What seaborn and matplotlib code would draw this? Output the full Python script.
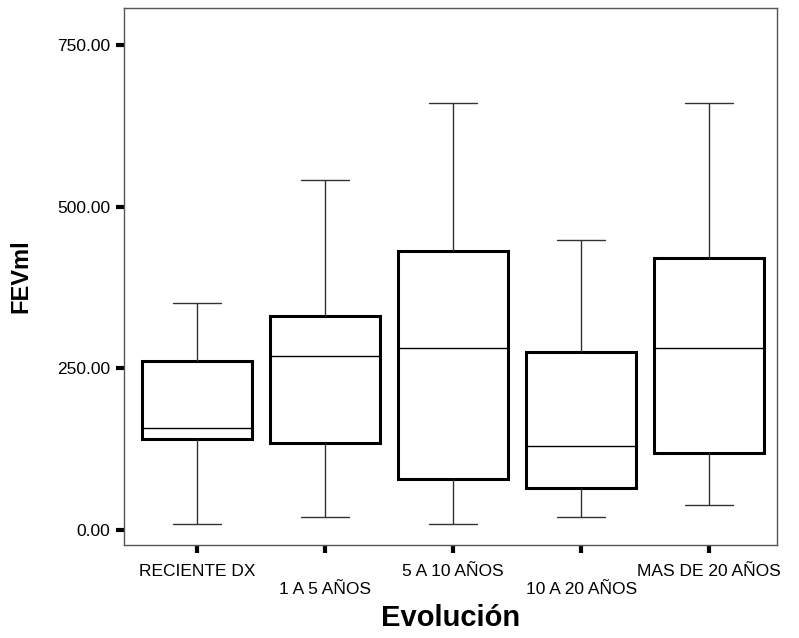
import numpy as np
import pandas as pd
import matplotlib
matplotlib.use("Agg")
import matplotlib.pyplot as plt
import seaborn as sns

# five-number summaries (min, Q1, median, Q3, max)
groups = ["RECIENTE DX", "1 A 5 AÑOS", "5 A 10 AÑOS", "10 A 20 AÑOS", "MAS DE 20 AÑOS"]
lows = [8, 20, 8, 20, 38]
q1s = [140, 134, 78, 64, 119]
medians = [158, 269, 281, 130, 281]
q3s = [261, 331, 432, 275, 420]
highs = [351, 542, 661, 449, 661]
yticks = [0, 250, 500, 750]

rows = []
for g, a, b, c, d, e in zip(groups, lows, q1s, medians, q3s, highs):
    for v in (a, b, c, d, e):
        rows.append({"Evolución": g, "FEVml": v})
df = pd.DataFrame(rows)

sns.set_style("white")
plt.rcParams["font.family"] = ["Liberation Sans", "DejaVu Sans"]
plt.rcParams["text.color"] = "black"
plt.rcParams["axes.labelcolor"] = "black"
plt.rcParams["xtick.color"] = "black"
plt.rcParams["ytick.color"] = "black"

fig = plt.figure(figsize=(7.99, 6.38), dpi=100)
ax = fig.add_axes([124 / 799, 93 / 638, 653 / 799, 537 / 638])

sns.boxplot(data=df, x="Evolución", y="FEVml", order=groups, whis=np.inf,
            width=0.86, color="white", linecolor="black", linewidth=1.0,
            boxprops=dict(linewidth=2.2, edgecolor="black", facecolor="white"),
            whiskerprops=dict(linewidth=1.0, color="#333333"),
            capprops=dict(linewidth=1.0, color="#333333"),
            medianprops=dict(linewidth=1.0, color="black"),
            ax=ax)

# narrower whisker caps, like the SPSS original
for ln in ax.lines:
    xs, ys = np.asarray(ln.get_xdata(), float), np.asarray(ln.get_ydata(), float)
    if len(xs) == 2 and ys[0] == ys[1] and abs(xs[1] - xs[0]) < 0.6:
        mid = xs.mean()
        half = abs(xs[1] - xs[0]) / 2 * 0.88
        ln.set_xdata([mid - half, mid + half])

ax.set_xlim(-0.57, 4.53)
ax.set_ylim(-24, 808)
ax.set_yticks(yticks)
ax.set_yticklabels([f"{v:.2f}" for v in yticks])
ax.set_xticks(range(len(groups)))
ax.set_xticklabels([g if i % 2 == 0 else "\n" + g for i, g in enumerate(groups)])

ax.tick_params(axis="both", which="major", length=6, width=3, color="black",
               labelcolor="black", direction="out", labelsize=12.5,
               left=True, bottom=True)
ax.tick_params(axis="x", pad=8)
ax.tick_params(axis="y", pad=4)

for s in ax.spines.values():
    s.set_visible(True)
    s.set_color("#555555")
    s.set_linewidth(1.0)

ax.set_xlabel("Evolución", fontsize=21, fontweight="bold", labelpad=5)
ax.set_ylabel("FEVml", fontsize=17, fontweight="bold", labelpad=18)

fig.savefig("out.png", dpi=100)
